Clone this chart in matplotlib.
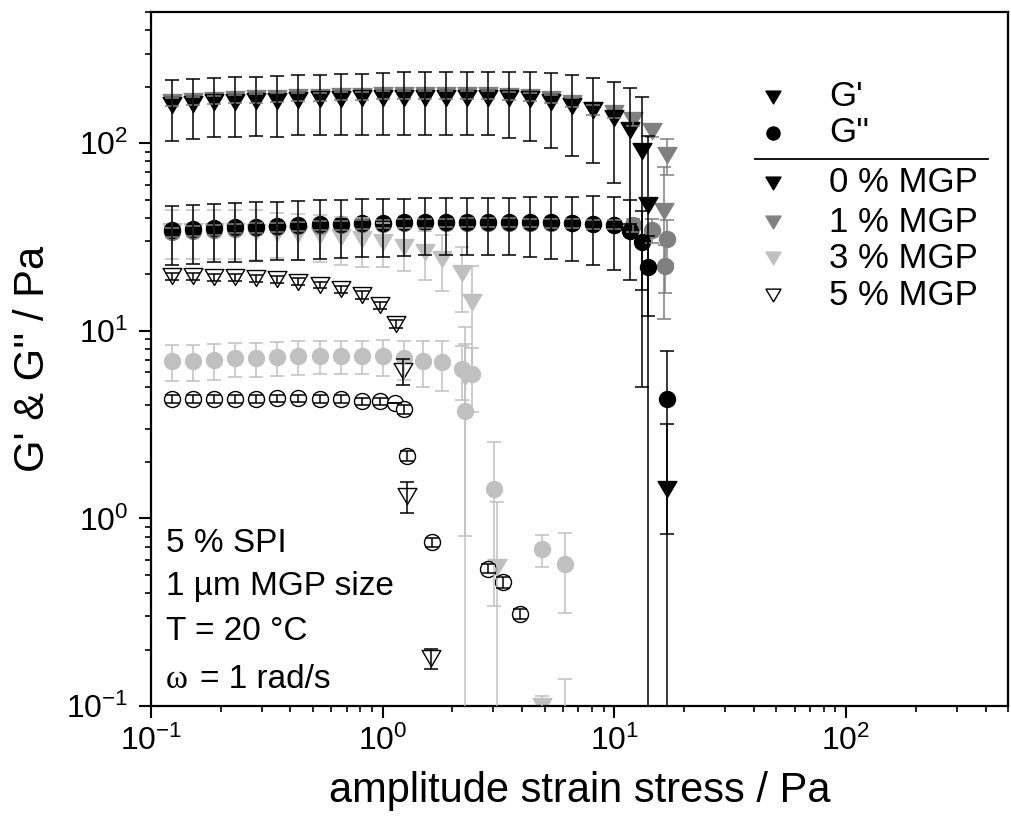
import matplotlib.pyplot as plt
from matplotlib.path import Path

plt.rcParams['font.family'] = ['Liberation Sans', 'DejaVu Sans']
plt.rcParams['mathtext.fontset'] = 'custom'
plt.rcParams['mathtext.rm'] = 'Liberation Sans'
plt.rcParams['mathtext.it'] = 'Liberation Sans:italic'
plt.rcParams['mathtext.bf'] = 'Liberation Sans:bold'

# stress steps of the sweep (Pa)
x_grid = [0.123, 0.152, 0.187, 0.231, 0.285, 0.351, 0.433, 0.534, 0.658, 0.811,
          1.00, 1.23, 1.52, 1.87, 2.31, 2.85, 3.51, 4.33, 5.34, 6.58, 8.11, 10.0]

# 0 % MGP
x_0 = x_grid + [11.7, 13.1, 13.9, 16.9]
g1_0 = [160, 162, 165, 166, 167, 168, 170, 171, 172, 173, 174, 175, 175, 175,
        175, 174, 173, 171, 165, 158, 150, 136, 117, 91, 46.6, 1.43]
g1_0_err = [57, 57, 57, 58, 58, 60, 60, 61, 62, 62, 63, 64, 64, 64,
            64, 64, 66, 68, 71, 73, 72, 75, 80, 86, 62, 1.75]
g2_0 = [34.4, 34.8, 35.2, 35.6, 35.9, 36.3, 36.6, 36.9, 37.2, 37.4, 37.6, 37.8, 38.0, 38.1,
        38.2, 38.2, 38.2, 38.1, 37.9, 37.6, 37.2, 36.4, 34.2, 29.9, 22.0, 4.33]
g2_0_err = [12, 12, 12, 12.3, 12.5, 12.5, 12.7, 12.8, 12.8, 12.8, 12.8, 12.8, 12.8, 12.8,
            12.8, 13, 13, 13.3, 13.8, 14.2, 14.8, 15.4, 15.6, 13.4, 10, 3.5]

# 1 % MGP
x_1 = x_grid + [12.0, 14.5, 16.8, 16.3]
g1_1 = [166, 168, 170, 172, 173, 175, 176, 177, 178, 179, 180, 180, 181, 181,
        181, 180, 179, 177, 172, 164, 150, 145, 133, 116, 86.6, 43.3]
g1_1_err = [9, 9, 9, 9, 9, 9, 9, 9, 9, 9, 9, 9, 9, 9,
            9, 9, 9, 9, 9, 9, 9, 9, 10, 8, 19, 31.7]
x_1b = x_grid + [12.0, 14.5, 16.8, 16.5]
g2_1 = [33.5, 34, 34.5, 35, 35.3, 35.6, 36, 36.3, 36.6, 36.9, 37.1, 37.3, 37.5, 37.6,
        37.7, 37.7, 37.7, 37.6, 37.5, 37.3, 37.0, 36.8, 36.6, 34.4, 31.0, 22.2]
g2_1_err = [2, 2, 2, 2, 2, 2, 2, 2, 2, 2, 2, 2, 2, 2,
            2, 2, 2, 2, 2, 2, 2, 2, 3, 5, 8, 6.4]

# 3 % MGP
x_3 = x_grid[:12] + [1.52, 1.81, 2.19, 2.44, 2.26, 3.10, 4.85, 6.15]
g1_3 = [34, 34, 34, 34, 33.8, 33.3, 32.8, 32.3, 31.5, 31.0, 29.8, 28.0,
        26.4, 24.2, 20.2, 14.2, 5.65, 0.55, 0.10, 0.04]
g1_3_err = [10, 10, 10, 10, 10, 9, 9, 9, 9, 9, 7.8, 7.2,
            7.8, 8, 7.6, 8, 4.84, 0.67, 0.013, 0.1]
x_3b = x_grid[:12] + [1.49, 1.81, 2.19, 2.44, 2.26, 3.03, 4.85, 6.15]
g2_3 = [6.93, 6.93, 6.99, 7.14, 7.14, 7.22, 7.31, 7.37, 7.37, 7.37, 7.31, 7.14,
        6.93, 6.79, 6.25, 5.90, 3.74, 1.44, 0.683, 0.573]
g2_3_err = [1.5, 1.5, 1.5, 1.5, 1.5, 1.5, 1.5, 1.5, 1.5, 1.5, 1.6, 1.7,
            1.9, 2.0, 2.0, 2.2, 4.76, 1.1, 0.13, 0.26]

# 5 % MGP
x_5 = x_grid[:10] + [0.97, 1.14, 1.22, 1.27, 1.62]
g1_5 = [19.5, 19.5, 19.3, 19.3, 19.1, 18.8, 18.3, 17.6, 16.6, 15.5, 13.7, 10.9,
        6.14, 1.32, 0.18]
g1_5_err = [0.8, 0.8, 0.8, 0.8, 0.8, 0.8, 0.8, 0.7, 0.7, 0.7, 0.6, 0.5,
            0.97, 0.25, 0.022]
x_5b = x_grid[:10] + [0.97, 1.13, 1.23, 1.27, 1.64, 2.84, 3.32, 3.90]
g2_5 = [4.33, 4.33, 4.33, 4.33, 4.33, 4.36, 4.36, 4.33, 4.33, 4.2, 4.2,
        4.10, 3.82, 2.15, 0.746, 0.54, 0.456, 0.31]
g2_5_err = [0.2, 0.2, 0.2, 0.2, 0.2, 0.2, 0.2, 0.2, 0.2, 0.2, 0.2,
            0, 0.2, 0.14, 0.04, 0.03, 0.03, 0.02]

legend_labels = ["0 % MGP", "1 % MGP", "3 % MGP", "5 % MGP"]
info_lines = ["5 % SPI", "1 µm MGP size", "T = 20 °C"]

black, gray, lgray = 'black', '#808080', '#c0c0c0'
tri = Path([(-1, 0.85), (1, 0.85), (0, -0.85), (-1, 0.85)],
           [Path.MOVETO, Path.LINETO, Path.LINETO, Path.CLOSEPOLY])

fig = plt.figure(figsize=(10.12, 8.3), dpi=100)
ax = fig.add_axes([151 / 1012, 1 - 706 / 830, 857 / 1012, 694 / 830])


def series(x, y, err, marker, ms, face, edge, ecol, z):
    ax.plot(x, y, ls='none', marker=marker, ms=ms, mfc=face, mec=edge, mew=1.0, zorder=z)
    ax.errorbar(x, y, yerr=err, fmt='none', ecolor=ecol, elinewidth=1.1,
                capsize=5, capthick=1.1, zorder=3)


series(x_3, g1_3, g1_3_err, tri, 13.5, lgray, lgray, lgray, 2.1)
series(x_3b, g2_3, g2_3_err, 'o', 11.5, lgray, lgray, lgray, 2.1)
series(x_1, g1_1, g1_1_err, tri, 13.5, gray, gray, gray, 2.2)
series(x_1b, g2_1, g2_1_err, 'o', 11.5, gray, gray, gray, 2.2)
series(x_0, g1_0, g1_0_err, tri, 13.5, black, black, black, 2.3)
series(x_0, g2_0, g2_0_err, 'o', 11.5, black, black, black, 2.3)
series(x_5, g1_5, g1_5_err, tri, 13.5, 'white', black, black, 2.4)
series(x_5b, g2_5, g2_5_err, 'o', 11.5, 'white', black, black, 2.4)

ax.set_xscale('log')
ax.set_yscale('log')
ax.set_xlim(0.1, 500)
ax.set_ylim(0.1, 500)

for s in ax.spines.values():
    s.set_linewidth(1.6)
ax.tick_params(which='major', length=8.5, width=1.5, direction='out', labelsize=23, pad=6)
ax.tick_params(which='minor', length=4.3, width=1.2, direction='out')
ax.tick_params(axis='y', which='major', pad=8)

ax.set_xlabel("amplitude strain stress / Pa", fontsize=30, labelpad=10)
ax.set_ylabel("G' & G'' / Pa", fontsize=30, labelpad=9)

# legend drawn by hand
def ax_pt(px, py):
    return (px - 151) / 857, (706 - py) / 694

mx = ax_pt(773, 0)[0]
tx = ax_pt(829, 0)[0]
rows = [("G'", tri, 10.8, black, black, 97), ("G''", 'o', 9.4, black, black, 133)]
leg_y = [183, 222, 258, 295]
faces = [black, gray, lgray, 'white']
edges = [black, gray, lgray, black]
for lab, fc, ec, py in zip(legend_labels, faces, edges, leg_y):
    rows.append((lab, tri, 10.8, fc, ec, py))
for lab, mk, ms, fc, ec, py in rows:
    yy = ax_pt(0, py)[1]
    ax.plot([mx], [yy], transform=ax.transAxes, marker=mk, ms=ms, mfc=fc, mec=ec,
            mew=1.0, ls='none', clip_on=False)
    ax.text(tx, yy, lab, transform=ax.transAxes, fontsize=25, va='center', ha='left')
x0, yl = ax_pt(755, 159)
x1 = ax_pt(988, 159)[0]
ax.plot([x0, x1], [yl, yl], transform=ax.transAxes, color='black', lw=1.3)

# experiment info
for line, py in zip(info_lines, [551.7, 595, 640]):
    ax.text(ax_pt(166, 0)[0], ax_pt(0, py)[1], line, transform=ax.transAxes,
            fontsize=24, va='baseline', ha='left')
ax.text(ax_pt(166, 0)[0], ax_pt(0, 688)[1], "ω", transform=ax.transAxes,
        fontsize=24, va='baseline', ha='left', family=['Liberation Serif', 'DejaVu Serif'])
ax.text(ax_pt(200, 0)[0], ax_pt(0, 688)[1], "= 1 rad/s", transform=ax.transAxes,
        fontsize=24, va='baseline', ha='left')

fig.savefig('out.png', dpi=100)
